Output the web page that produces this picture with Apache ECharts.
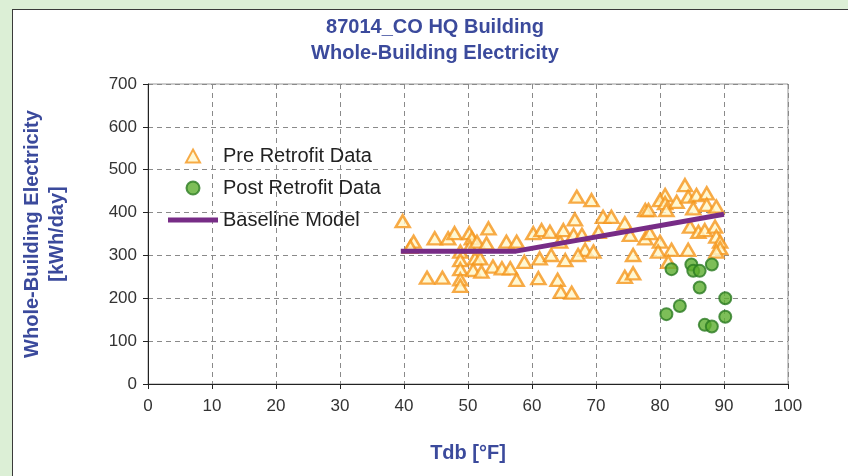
<!DOCTYPE html>
<html>
<head>
<meta charset="utf-8">
<script src="https://cdn.jsdelivr.net/npm/echarts@6/dist/echarts.min.js"></script>
<style>
  html, body { margin:0; padding:0; background:#dcefd6; }
  #box { position:absolute; left:12px; top:9px; width:840px; height:480px; background:#fff; border:1.5px solid #3a3a3a; }
  #chart { position:absolute; left:0; top:0; width:848px; height:476px; }
</style>
</head>
<body>
<div id="box"></div>
<div id="chart"></div>
<script>
// pre retrofit data (Tdb, kWh/day)
var preTdb = [39.8, 41.5, 41.0, 44.8, 46.9, 47.9, 43.6, 46.0, 50.2, 50.6, 48.8, 48.8, 48.8, 48.8, 48.8, 50.3, 51.1, 50.8,
              53.2, 51.4, 52.9, 56.0, 57.6, 51.9, 53.9, 55.3, 56.6, 58.8, 57.6, 52.1, 60.2, 61.5, 62.8, 61.2, 61.0, 63.0, 64.4, 64.0,
              67.0, 69.3, 66.7, 71.1, 72.4, 64.9, 66.5, 67.8, 70.4, 74.5, 75.3, 77.7, 77.7, 65.2, 68.3, 69.6, 75.8, 74.5, 75.8, 64.5, 66.2, 67.2,
              83.9, 80.8, 80.0, 80.8, 82.6, 84.4, 85.7, 87.3, 87.3, 85.2, 88.8, 78.2, 81.0, 84.7, 86.0, 87.0, 88.6, 88.8, 89.4, 89.4,
              80.0, 81.8, 84.4, 79.7, 78.4, 88.8, 81.3];
var preKwh = [380, 332, 320, 340, 340, 352, 248, 248, 352, 340, 309, 289, 268, 244, 229, 320, 293, 266,
              363, 332, 328, 332, 332, 293, 274, 270, 270, 285, 243, 262, 352, 359, 355, 293, 247, 301, 332, 243,
              437, 429, 384, 390, 390, 359, 348, 348, 355, 375, 348, 340, 406, 289, 313, 309, 301, 250, 258, 215, 213, 301,
              464, 441, 429, 422, 425, 437, 441, 445, 418, 410, 414, 406, 406, 367, 355, 359, 367, 344, 332, 317,
              332, 313, 313, 309, 352, 309, 285];

// post retrofit data
var postTdb = [81.8, 84.9, 85.2, 86.2, 88.1, 86.2, 90.2, 83.1, 81.0, 90.2, 87.0, 88.1];
var postKwh = [268, 279, 264, 264, 279, 225, 200, 182, 163, 157, 138, 134];

// baseline model (change-point)
var baseTdb = [39.5, 57.5, 90.0];
var baseKwh = [310, 310, 396];

var xTicks = [0, 10, 20, 30, 40, 50, 60, 70, 80, 90, 100];
var yTicks = [0, 100, 200, 300, 400, 500, 600, 700];

function pairs(xs, ys) {
    var out = [];
    for (var i = 0; i < xs.length; i++) out.push([xs[i], ys[i]]);
    return out;
}

var blue = '#3b4a9c';
var orange = '#f5961c';
var purple = '#772c86';
var chart = echarts.init(document.getElementById('chart'));
var option = {
    animation: false,
    textStyle: { fontFamily: 'Liberation Sans' },
    title: {
        text: '87014_CO HQ Building\nWhole-Building Electricity',
        left: 430, top: 9, textAlign: 'center',
        textStyle: { color: blue, fontSize: 20, fontWeight: 'bold', lineHeight: 26, fontFamily: 'Liberation Sans' }
    },
    legend: {
        orient: 'vertical', left: 163, top: 141,
        itemWidth: 50, itemHeight: 13, itemGap: 12, symbolKeepAspect: true,
        textStyle: { color: '#222', fontSize: 20, fontFamily: 'Liberation Sans' },
        data: [
            { name: 'Pre Retrofit Data', icon: 'path://M0,-1L1.08,1L-1.08,1Z' },
            { name: 'Post Retrofit Data', icon: 'path://M-1,0A1,1,0,1,1,1,0A1,1,0,1,1,-1,0Z' },
            { name: 'Baseline Model', icon: 'path://M0,0L50,0L50,5L0,5Z', itemStyle: { color: purple, borderWidth: 0 } }
        ]
    },
    grid: { left: 148, right: 60, top: 84, bottom: 92, show: true, borderColor: '#999', borderWidth: 1, backgroundColor: '#fff' },
    xAxis: {
        type: 'value', min: xTicks[0], max: xTicks[xTicks.length - 1], interval: 10,
        name: 'Tdb [°F]', nameLocation: 'middle', nameGap: 59,
        nameTextStyle: { color: blue, fontSize: 20, fontWeight: 'bold', fontFamily: 'Liberation Sans' },
        axisLine: { lineStyle: { color: '#222', width: 1 } },
        axisTick: { show: true, length: 5, lineStyle: { color: '#222' } },
        axisLabel: { color: '#333', fontSize: 17, margin: 14, fontFamily: 'Liberation Sans' },
        splitLine: { lineStyle: { color: '#8a8a8a', type: [5, 4], width: 1 } }
    },
    yAxis: {
        type: 'value', min: yTicks[0], max: yTicks[yTicks.length - 1], interval: 100,
        name: 'Whole-Building Electricity\n[kWh/day]', nameLocation: 'middle', nameGap: 78,
        nameTextStyle: { color: blue, fontSize: 20, fontWeight: 'bold', lineHeight: 25, fontFamily: 'Liberation Sans' },
        axisLine: { show: true, lineStyle: { color: '#222', width: 1 } },
        axisTick: { show: true, length: 5, lineStyle: { color: '#222' } },
        axisLabel: { color: '#333', fontSize: 17, margin: 11, fontFamily: 'Liberation Sans' },
        splitLine: { lineStyle: { color: '#8a8a8a', type: [5, 4], width: 1 } }
    },
    series: [
        {
            name: 'Pre Retrofit Data', type: 'scatter', symbol: 'triangle', symbolSize: [14, 12], z: 3,
            itemStyle: { color: '#fff6c8', borderColor: orange, borderWidth: 2.5 },
            data: pairs(preTdb, preKwh)
        },
        {
            name: 'Post Retrofit Data', type: 'scatter', symbol: 'circle', symbolSize: 12, z: 4,
            itemStyle: { color: '#5cae2e', borderColor: '#2a7a22', borderWidth: 2 },
            data: pairs(postTdb, postKwh)
        },
        {
            name: 'Baseline Model', type: 'line', showSymbol: false, symbol: 'none', z: 5,
            lineStyle: { color: purple, width: 5 },
            itemStyle: { color: purple },
            data: pairs(baseTdb, baseKwh)
        }
    ]
};
chart.setOption(option);
</script>
</body>
</html>
